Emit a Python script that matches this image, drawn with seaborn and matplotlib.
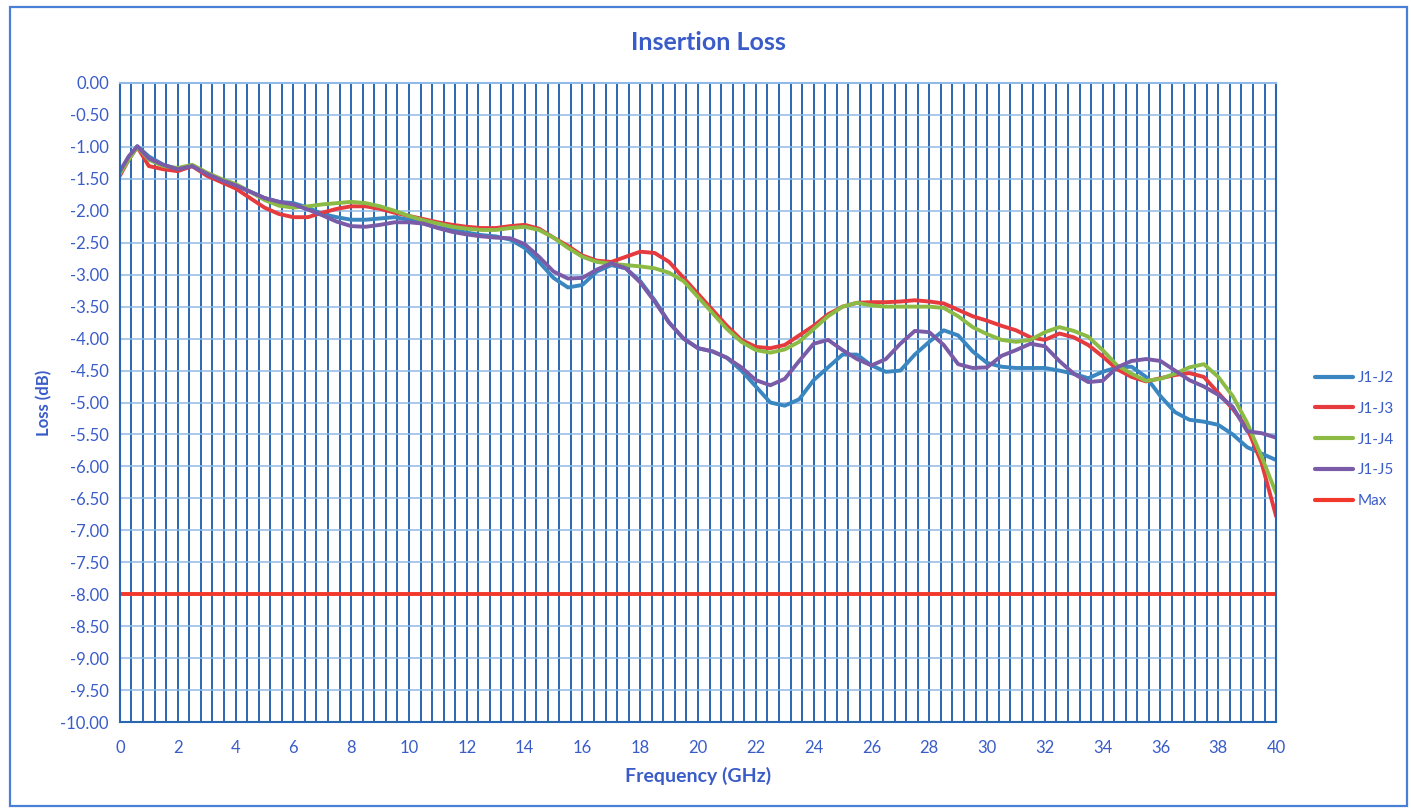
import matplotlib
matplotlib.use('Agg')
import matplotlib.pyplot as plt
from matplotlib.ticker import MultipleLocator, FormatStrFormatter
from matplotlib.patches import Rectangle
import seaborn as sns
import pandas as pd

# frequency grid (GHz)
freq = [0, 0.3, 0.6] + [1.0 + 0.5 * i for i in range(79)]

j1_j2 = [-1.42, -1.2, -0.99, -1.15, -1.28, -1.35, -1.3, -1.42, -1.52, -1.6,
         -1.7, -1.8, -1.86, -1.88, -1.95, -2.05, -2.1, -2.14, -2.14, -2.12,
         -2.1, -2.14, -2.2, -2.26, -2.3, -2.34, -2.38, -2.4, -2.45, -2.58,
         -2.8, -3.05, -3.2, -3.16, -2.95, -2.85, -2.9, -3.1, -3.4, -3.75,
         -4.0, -4.15, -4.2, -4.3, -4.5, -4.75, -5.0, -5.05, -4.95, -4.65,
         -4.45, -4.25, -4.25, -4.42, -4.52, -4.5, -4.25, -4.05, -3.87, -3.95,
         -4.2, -4.38, -4.44, -4.46, -4.46, -4.46, -4.5, -4.55, -4.62, -4.52,
         -4.45, -4.44, -4.6, -4.9, -5.15, -5.27, -5.3, -5.35, -5.5, -5.7,
         -5.8, -5.9]
j1_j3 = [-1.45, -1.2, -1.0, -1.3, -1.35, -1.38, -1.3, -1.45, -1.55, -1.65,
         -1.8, -1.95, -2.05, -2.1, -2.1, -2.03, -1.97, -1.93, -1.93, -1.97,
         -2.03, -2.08, -2.13, -2.18, -2.22, -2.25, -2.27, -2.27, -2.24, -2.22,
         -2.28, -2.42, -2.55, -2.7, -2.78, -2.8, -2.72, -2.64, -2.66, -2.8,
         -3.05, -3.3, -3.55, -3.8, -4.02, -4.13, -4.15, -4.1, -3.95, -3.8,
         -3.62, -3.5, -3.44, -3.43, -3.43, -3.42, -3.4, -3.42, -3.45, -3.55,
         -3.65, -3.72, -3.8, -3.87, -3.98, -4.02, -3.92, -3.98, -4.1, -4.28,
         -4.48, -4.6, -4.67, -4.62, -4.57, -4.54, -4.6, -4.85, -5.1, -5.4,
         -5.95, -6.78]
j1_j4 = [-1.42, -1.2, -1.0, -1.2, -1.3, -1.33, -1.28, -1.4, -1.5, -1.58,
         -1.7, -1.83, -1.92, -1.95, -1.93, -1.9, -1.88, -1.86, -1.88, -1.93,
         -2.0, -2.08, -2.15, -2.2, -2.25, -2.28, -2.3, -2.3, -2.27, -2.25,
         -2.3, -2.42, -2.58, -2.72, -2.8, -2.83, -2.85, -2.87, -2.9, -2.97,
         -3.1, -3.35, -3.6, -3.85, -4.05, -4.18, -4.22, -4.17, -4.05, -3.85,
         -3.65, -3.5, -3.44, -3.48, -3.5, -3.5, -3.5, -3.5, -3.52, -3.65,
         -3.82, -3.93, -4.02, -4.05, -4.02, -3.9, -3.82, -3.88, -3.97, -4.18,
         -4.42, -4.55, -4.66, -4.63, -4.55, -4.45, -4.4, -4.6, -4.9, -5.32,
         -5.85, -6.42]
j1_j5 = [-1.38, -1.15, -0.99, -1.18, -1.28, -1.35, -1.3, -1.42, -1.52, -1.6,
         -1.7, -1.8, -1.86, -1.9, -1.98, -2.07, -2.17, -2.24, -2.25, -2.22,
         -2.18, -2.18, -2.2, -2.27, -2.33, -2.37, -2.4, -2.42, -2.43, -2.52,
         -2.72, -2.95, -3.06, -3.05, -2.92, -2.82, -2.9, -3.12, -3.42, -3.75,
         -4.0, -4.15, -4.2, -4.3, -4.45, -4.65, -4.73, -4.63, -4.35, -4.08,
         -4.02, -4.18, -4.32, -4.42, -4.32, -4.08, -3.88, -3.9, -4.1, -4.4,
         -4.46, -4.45, -4.27, -4.18, -4.08, -4.12, -4.35, -4.55, -4.68, -4.66,
         -4.45, -4.35, -4.32, -4.35, -4.5, -4.65, -4.75, -4.88, -5.07, -5.45,
         -5.48, -5.55]
max_limit = -8.0

series_names = ['J1-J2', 'J1-J3', 'J1-J4', 'J1-J5', 'Max']
colors = ['#3a86c0', '#e53a3e', '#8cbb45', '#7a5ba8', '#f2382a']

df = pd.DataFrame({'freq': freq, 'J1-J2': j1_j2, 'J1-J3': j1_j3,
                   'J1-J4': j1_j4, 'J1-J5': j1_j5})
df['Max'] = max_limit
long_df = df.melt(id_vars='freq', var_name='series', value_name='loss')

sns.set_theme(style='white')
plt.rcParams['font.family'] = ['Lato', 'DejaVu Sans']
text_col = '#3a5cc8'

fig = plt.figure(figsize=(14.11, 8.08), dpi=100)
ax = fig.add_axes([0.085, 0.1064, 0.8194, 0.7909])

# grid first
ax.set_axisbelow(True)
ax.xaxis.set_major_locator(MultipleLocator(2))
ax.xaxis.set_minor_locator(MultipleLocator(0.4))
ax.yaxis.set_major_locator(MultipleLocator(0.5))
ax.grid(axis='x', which='both', color='#2a66b0', linewidth=1.4)
ax.grid(axis='y', which='major', color='#8fbbe6', linewidth=1.1)

sns.lineplot(data=long_df, x='freq', y='loss', hue='series',
             hue_order=series_names, palette=colors, linewidth=2.8,
             ax=ax, legend=True)

ax.set_xlim(0, 40)
ax.set_ylim(-10, 0)
ax.yaxis.set_major_formatter(FormatStrFormatter('%.2f'))
ax.tick_params(axis='both', which='both', length=0, labelsize=12,
               labelcolor=text_col, pad=8)
ax.tick_params(axis='x', pad=13)
for s in ax.spines.values():
    s.set_color('#2a66b0')
    s.set_linewidth(1.5)
ax.spines['top'].set_color('#8fbbe6')

ax.set_xlabel('Frequency (GHz)', fontsize=14, fontweight='bold',
              color=text_col, labelpad=8)
ax.set_ylabel('Loss (dB)', fontsize=12, fontweight='bold', color=text_col,
              labelpad=6)
fig.text(0.502, 0.948, 'Insertion Loss', ha='center', va='center',
         fontsize=18, fontweight='bold', color=text_col)

handles, labels = ax.get_legend_handles_labels()
ax.get_legend().remove()
leg = fig.legend(handles, labels, loc='center left',
                 bbox_to_anchor=(0.922, 0.456), frameon=False,
                 fontsize=11, handlelength=2.5, handletextpad=0.3,
                 labelspacing=1.1)
for t in leg.get_texts():
    t.set_color(text_col)
for h in leg.legend_handles:
    h.set_linewidth(3)

# outer chart border
fig.patches.append(Rectangle((0.007, 0.002), 0.99, 0.989,
                             transform=fig.transFigure, fill=False,
                             edgecolor='#4a7fd8', linewidth=1.6))

fig.savefig('out.png', dpi=100, facecolor='white')
